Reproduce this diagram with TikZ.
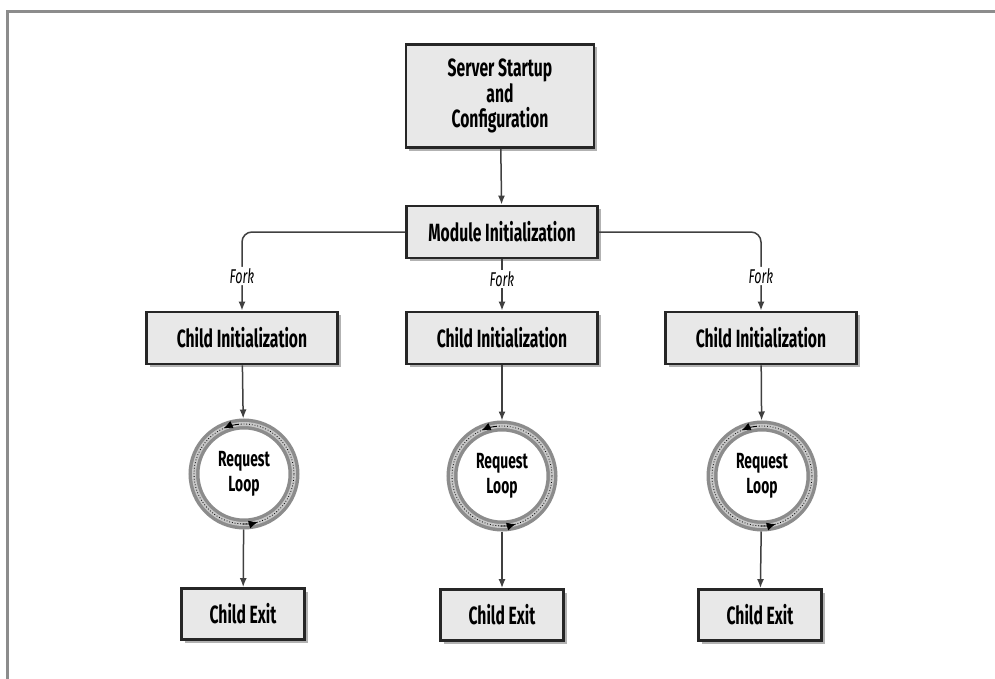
\documentclass[tikz,border=0pt]{standalone}
\usepackage{fontspec}
\setmainfont{Fira Sans}[FakeStretch=0.63]
\usepackage{tikz}
\usetikzlibrary{arrows.meta,shapes,shadows}

\tikzset{
  stagebox/.style={draw=black!85,line width=2.8bp,fill=black!9,align=center,
    font=\fontsize{25}{26}\selectfont\bfseries,inner sep=0bp,
    drop shadow={shadow xshift=3bp,shadow yshift=-3bp,opacity=0.3,fill=black}},
  loopring/.style={circle,draw=black!45,line width=11bp,minimum size=100bp,
    align=center,font=\fontsize{22}{25}\selectfont\bfseries},
  conn/.style={draw=black!75,line width=1.5bp,-{Latex[length=9bp,width=7bp]}},
  forkarm/.style={draw=black!75,line width=1.5bp,rounded corners=10bp,-{Latex[length=9bp,width=7bp]}},
  forklabel/.style={fill=white,inner sep=1.5bp,font=\fontsize{20}{20}\selectfont\itshape},
  loopdots/.style={draw=black,line width=0.8bp,dotted},
  looptip/.style={draw=black,line width=0.8bp,-{Latex[length=9bp,width=8bp]}}
}

\begin{document}
\begin{tikzpicture}[x=1bp,y=1bp]
\useasboundingbox (0,0) rectangle (995,-679);
\draw [black!45,line width=3bp] (7,-679) -- (7,-12) -- (995,-12);

\node (SS) at (500,-96)[stagebox,minimum width=188bp,minimum height=103bp] {Server Startup\\and\\Configuration};
\node (MI) at (502,-232)[stagebox,minimum width=191bp,minimum height=52bp] {Module Initialization};
\node (CI1) at (242,-338)[stagebox,minimum width=191bp,minimum height=52bp] {Child Initialization};
\node (CI2) at (502,-338)[stagebox,minimum width=191bp,minimum height=52bp] {Child Initialization};
\node (CI3) at (761,-338)[stagebox,minimum width=191bp,minimum height=52bp] {Child Initialization};
\node (RL1) at (244,-474)[loopring] {Request\\Loop};
\node (RL2) at (502,-476)[loopring] {Request\\Loop};
\node (RL3) at (762,-476)[loopring] {Request\\Loop};
\node (CE1) at (243,-614)[stagebox,minimum width=123bp,minimum height=51bp] {Child Exit};
\node (CE2) at (502,-615)[stagebox,minimum width=123bp,minimum height=51bp] {Child Exit};
\node (CE3) at (760,-615)[stagebox,minimum width=123bp,minimum height=51bp] {Child Exit};

% inner ring shading and the dotted cycle
\draw [black!22,line width=4bp] (RL1) circle (50bp) (RL2) circle (50bp) (RL3) circle (50bp);
\draw [loopdots] (RL1) circle (50bp) (RL2) circle (50bp) (RL3) circle (50bp);
\draw [looptip] (RL1)++(96:50bp) arc(96:114:50bp);
\draw [looptip] (RL1)++(-92:50bp) arc(-92:-74:50bp);
\draw [looptip] (RL2)++(96:50bp) arc(96:114:50bp);
\draw [looptip] (RL2)++(-92:50bp) arc(-92:-74:50bp);
\draw [looptip] (RL3)++(96:50bp) arc(96:114:50bp);
\draw [looptip] (RL3)++(-92:50bp) arc(-92:-74:50bp);

\draw [conn] (SS) -- (MI);
\draw [forkarm] (MI.west) -| node[forklabel,pos=0.78] {Fork} (CI1.north);
\draw [conn] (MI) -- node[forklabel,pos=0.38] {Fork} (CI2);
\draw [forkarm] (MI.east) -| node[forklabel,pos=0.78] {Fork} (CI3.north);
\draw [conn] (CI1) -- (RL1);
\draw [conn] (CI2) -- (RL2);
\draw [conn] (CI3) -- (RL3);
\draw [conn] (RL1) -- (CE1);
\draw [conn] (RL2) -- (CE2);
\draw [conn] (RL3) -- (CE3);
\end{tikzpicture}
\end{document}
